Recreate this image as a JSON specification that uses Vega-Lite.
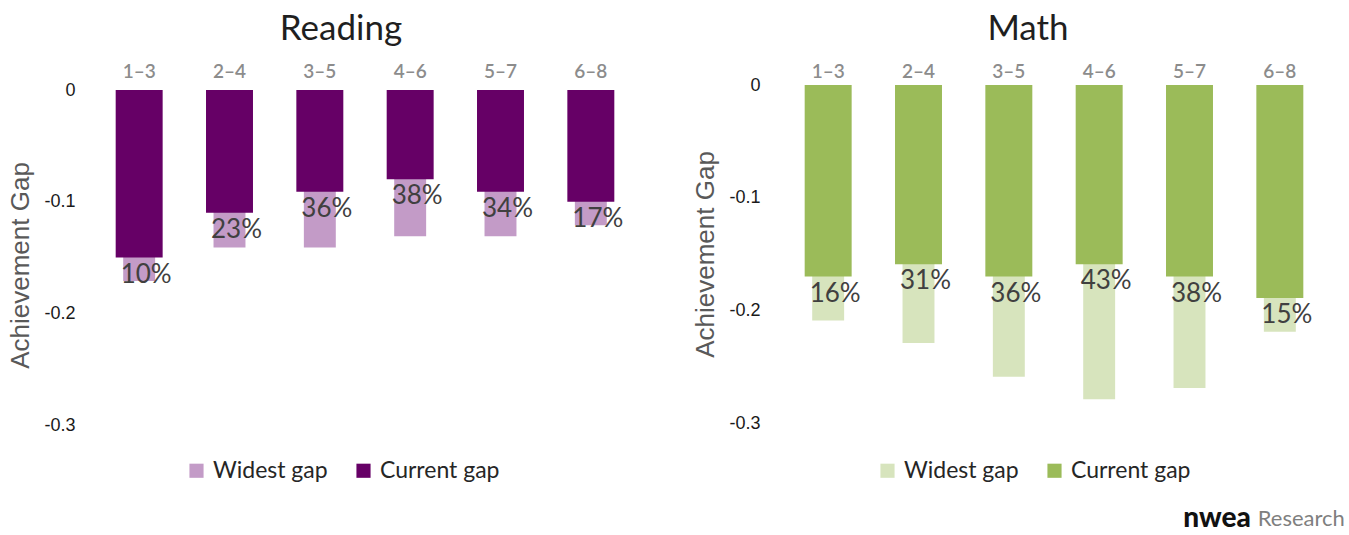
{
  "$schema": "https://vega.github.io/schema/vega-lite/v6.json",
  "background": "white",
  "padding": {"left": 7, "top": 12, "right": 2, "bottom": 1},
  "config": {
    "font": "Lato",
    "view": {"stroke": null},
    "concat": {"spacing": 56}
  },
  "datasets": {
    "reading": [
      {"band": "1–3", "current": -0.150, "widest": -0.171, "pct": 0.10},
      {"band": "2–4", "current": -0.110, "widest": -0.141, "pct": 0.23},
      {"band": "3–5", "current": -0.091, "widest": -0.141, "pct": 0.36},
      {"band": "4–6", "current": -0.080, "widest": -0.131, "pct": 0.38},
      {"band": "5–7", "current": -0.091, "widest": -0.131, "pct": 0.34},
      {"band": "6–8", "current": -0.100, "widest": -0.121, "pct": 0.17}
    ],
    "math": [
      {"band": "1–3", "current": -0.170, "widest": -0.209, "pct": 0.16},
      {"band": "2–4", "current": -0.159, "widest": -0.229, "pct": 0.31},
      {"band": "3–5", "current": -0.170, "widest": -0.259, "pct": 0.36},
      {"band": "4–6", "current": -0.159, "widest": -0.279, "pct": 0.43},
      {"band": "5–7", "current": -0.170, "widest": -0.269, "pct": 0.38},
      {"band": "6–8", "current": -0.189, "widest": -0.219, "pct": 0.15}
    ],
    "brand": [
      {"logo": "nwea", "unit": "Research"}
    ]
  },
  "hconcat": [
    {
      "title": {"text": "Reading", "fontSize": 35, "fontWeight": "normal", "color": "#1f1f1f", "anchor": "middle", "dx": -24, "offset": 15},
      "width": 542,
      "height": 340,
      "data": {"name": "reading"},
      "encoding": {
        "x": {
          "field": "band", "type": "nominal", "sort": null,
          "scale": {"paddingInner": 0.48, "paddingOuter": 0.24},
          "axis": {"orient": "top", "title": null, "labelAngle": 0, "domain": false, "ticks": false,
                   "labelFontSize": 19, "labelColor": "#8c8c8c", "labelFontWeight": 600, "labelPadding": 4}
        }
      },
      "layer": [
        {
          "mark": {"type": "bar", "width": {"band": 0.68}},
          "encoding": {
            "y": {
              "field": "widest", "type": "quantitative", "title": "Achievement Gap",
              "scale": {"domain": [-0.3, 0.0045], "nice": false, "zero": false},
              "axis": {"values": [0, -0.1, -0.2, -0.3], "labelExpr": "toString(round(datum.value*10)/10)",
                       "labelFont": "Liberation Sans", "labelFontSize": 18, "labelColor": "#1a1a1a", "labelPadding": 19,
                       "domain": false, "ticks": false, "grid": false,
                       "titleFont": "Liberation Sans", "titleFontSize": 26, "titleFontWeight": "normal", "titleColor": "#595959",
                       "titlePadding": 10, "titleY": 180}
            },
            "color": {
              "datum": "Widest gap",
              "scale": {"domain": ["Widest gap", "Current gap"], "range": ["#c39bc7", "#660066"]},
              "legend": {"orient": "none", "legendX": 91, "legendY": 374, "direction": "horizontal", "title": null, "symbolType": "square",
                         "symbolSize": 200, "symbolStrokeWidth": 0, "labelFontSize": 23, "labelColor": "#262626",
                         "columnPadding": 24, "labelOffset": 5}
            }
          }
        },
        {
          "mark": {"type": "bar", "width": {"band": 1}},
          "encoding": {
            "y": {"field": "current", "type": "quantitative", "title": "Achievement Gap"},
            "color": {"datum": "Current gap"}
          }
        },
        {
          "mark": {"type": "text", "baseline": "top", "dy": 4, "dx": 7, "fontSize": 26, "color": "#404040"},
          "encoding": {
            "y": {"field": "current", "type": "quantitative", "title": "Achievement Gap"},
            "text": {"field": "pct", "type": "quantitative", "format": ".0%"}
          }
        }
      ]
    },
    {
      "title": {"text": "Math", "fontSize": 35, "fontWeight": "normal", "color": "#1f1f1f", "anchor": "middle", "dx": -26, "offset": 15},
      "width": 542,
      "height": 338,
      "data": {"name": "math"},
      "encoding": {
        "x": {
          "field": "band", "type": "nominal", "sort": null,
          "scale": {"paddingInner": 0.48, "paddingOuter": 0.24},
          "axis": {"orient": "top", "title": null, "labelAngle": 0, "domain": false, "ticks": false,
                   "labelFontSize": 19, "labelColor": "#8c8c8c", "labelFontWeight": 600, "labelPadding": 4}
        }
      },
      "layer": [
        {
          "mark": {"type": "bar", "width": {"band": 0.68}},
          "encoding": {
            "y": {
              "field": "widest", "type": "quantitative", "title": "Achievement Gap",
              "scale": {"domain": [-0.3, 0], "nice": false},
              "axis": {"values": [0, -0.1, -0.2, -0.3], "labelExpr": "toString(round(datum.value*10)/10)",
                       "labelFont": "Liberation Sans", "labelFontSize": 18, "labelColor": "#1a1a1a", "labelPadding": 23,
                       "domain": false, "ticks": false, "grid": false,
                       "titleFont": "Liberation Sans", "titleFontSize": 26, "titleFontWeight": "normal", "titleColor": "#595959", "titlePadding": 10}
            },
            "color": {
              "datum": "Widest gap",
              "scale": {"domain": ["Widest gap", "Current gap"], "range": ["#d7e4bd", "#9bbb59"]},
              "legend": {"orient": "none", "legendX": 93, "legendY": 374, "direction": "horizontal", "title": null, "symbolType": "square",
                         "symbolSize": 200, "symbolStrokeWidth": 0, "labelFontSize": 23, "labelColor": "#262626",
                         "columnPadding": 24, "labelOffset": 5}
            }
          }
        },
        {
          "mark": {"type": "bar", "width": {"band": 1}},
          "encoding": {
            "y": {"field": "current", "type": "quantitative", "title": "Achievement Gap"},
            "color": {"datum": "Current gap"}
          }
        },
        {
          "mark": {"type": "text", "baseline": "top", "dy": 4, "dx": 7, "fontSize": 26, "color": "#404040"},
          "encoding": {
            "y": {"field": "current", "type": "quantitative", "title": "Achievement Gap"},
            "text": {"field": "pct", "type": "quantitative", "format": ".0%"}
          }
        },
        {
          "data": {"name": "brand"},
          "mark": {"type": "text", "align": "right", "baseline": "middle", "dx": -29, "fontSize": 28, "fontWeight": 900, "color": "#111111"},
          "encoding": {
            "x": {"datum": "6–8"},
            "y": {"datum": -0.385},
            "text": {"field": "logo"}
          }
        },
        {
          "data": {"name": "brand"},
          "mark": {"type": "text", "align": "right", "baseline": "middle", "dx": 65, "fontSize": 22, "color": "#7f7f7f"},
          "encoding": {
            "x": {"datum": "6–8"},
            "y": {"datum": -0.385},
            "text": {"field": "unit"}
          }
        }
      ]
    }
  ],
  "resolve": {
    "scale": {"color": "independent", "y": "independent", "x": "independent"},
    "legend": {"color": "independent"}
  }
}
